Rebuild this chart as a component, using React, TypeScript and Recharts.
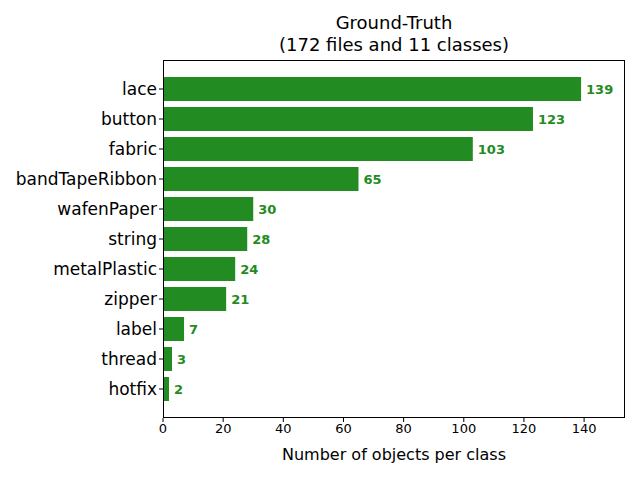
import { BarChart, Bar, XAxis, YAxis, LabelList } from "recharts"

const classes = ["lace", "button", "fabric", "bandTapeRibbon", "wafenPaper", "string", "metalPlastic", "zipper", "label", "thread", "hotfix"]
const counts = [139, 123, 103, 65, 30, 28, 24, 21, 7, 3, 2]
const xTicks = [0, 20, 40, 60, 80, 100, 120, 140]

const data = classes.map((name, i) => ({ name, count: counts[i] }))
const font = "DejaVu Sans, sans-serif"

export default function App() {
  return (
    <div style={{ position: "absolute", left: 0, top: 0, width: 640, height: 480, fontFamily: font, background: "#fff" }}>
      <div style={{ position: "absolute", top: 12, left: 163, width: 462, textAlign: "center", fontSize: 18, lineHeight: "22px" }}>
        Ground-Truth<br />(172 files and 11 classes)
      </div>
      <BarChart width={640} height={480} data={data} layout="vertical" barCategoryGap="10%"
        margin={{ top: 60, right: 15, bottom: 32, left: 13 }}>
        <XAxis type="number" domain={[0, 153.6]} ticks={xTicks} axisLine={false} tickSize={4}
          tick={{ fill: "#000", fontSize: 13, fontFamily: font }} tickLine={{ stroke: "#000" }} height={30} />
        <YAxis type="category" dataKey="name" width={150} axisLine={false} tickSize={4} padding={{ top: 14, bottom: 14 }}
          tick={{ fill: "#000", fontSize: 17, fontFamily: font }} tickLine={{ stroke: "#000" }} />
        <Bar dataKey="count" fill="#228b22" isAnimationActive={false}>
          <LabelList dataKey="count" position="right" offset={5} fill="#228b22" fontSize={13} fontWeight="bold" fontFamily={font} />
        </Bar>
      </BarChart>
      <div style={{ position: "absolute", left: 163, top: 60, width: 462, height: 358, border: "1px solid #000", boxSizing: "border-box", pointerEvents: "none" }} />
      <div style={{ position: "absolute", top: 445, left: 163, width: 462, textAlign: "center", fontSize: 16 }}>
        Number of objects per class
      </div>
    </div>
  )
}
